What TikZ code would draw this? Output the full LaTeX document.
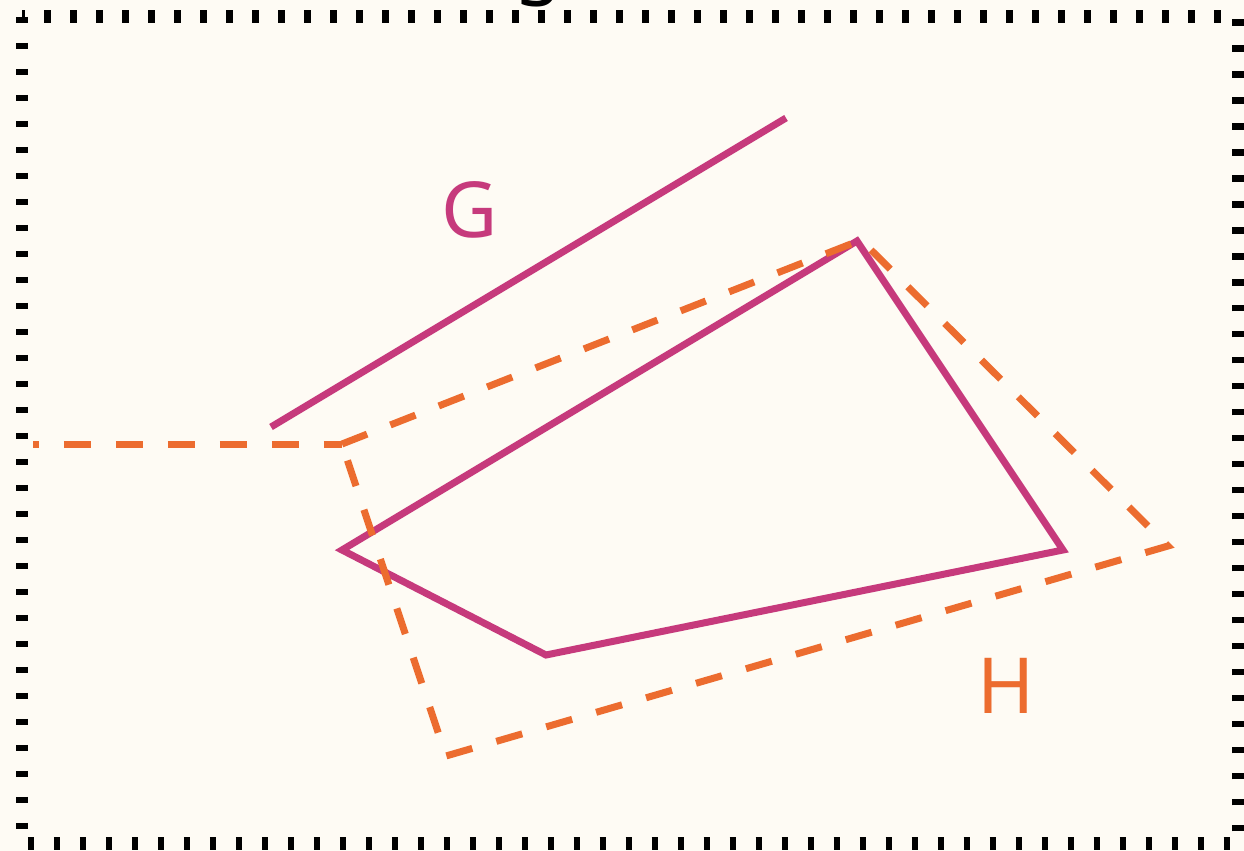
\documentclass[tikz,border=0pt]{standalone}
\usepackage{fontspec}
\setmainfont{Noto Sans}
\definecolor{bgc}{HTML}{FEFBF4}
\definecolor{mag}{HTML}{C63A7C}
\definecolor{org}{HTML}{EC6C2F}
\begin{document}
\begin{tikzpicture}[x=0.02cm,y=-0.02cm,
  frame/.style={draw=black, line width=0.26cm, dash pattern=on 0.13cm off 0.39cm},
  gline/.style={draw=mag, line width=0.14cm},
  hline/.style={draw=org, line width=0.14cm, dash pattern=on 0.54cm off 0.5cm},
  lbl/.style={font=\fontsize{44}{50}\selectfont, inner sep=0pt}]
\fill[bgc] (0,0) rectangle (1244,851);
\useasboundingbox (0,0) rectangle (1244,851);
\draw[frame] (22,17) rectangle (1238,843);
% title (cut off at top)
\node[font=\fontsize{44}{50}\selectfont, inner sep=0pt, anchor=base] (title) at (538,-11) {g};
% coordinates
\coordinate (g1) at (271,427);
\coordinate (g2) at (786,118);
\coordinate (ga) at (342,550);
\coordinate (gb) at (857,241);
\coordinate (gc) at (1063,550);
\coordinate (gd) at (546,655);
\coordinate (h0) at (33,444);
\coordinate (ha) at (342,444);
\coordinate (hb) at (861,240);
\coordinate (hc) at (1168,546);
\coordinate (hd) at (446,756);
% G
\draw[gline] (g1) -- (g2);
\draw[gline] (ga) -- (gb) -- (gc) -- (gd) -- cycle;
\node[lbl, text=mag] (G) at (470,210) {G};
% H
\draw[hline, dash phase=0.42cm] (h0) -- (ha);
\draw[hline] (ha) -- (hb) -- (hc) -- (hd) -- cycle;
\node[lbl, text=org] (H) at (1006,686) {H};
\end{tikzpicture}
\end{document}
